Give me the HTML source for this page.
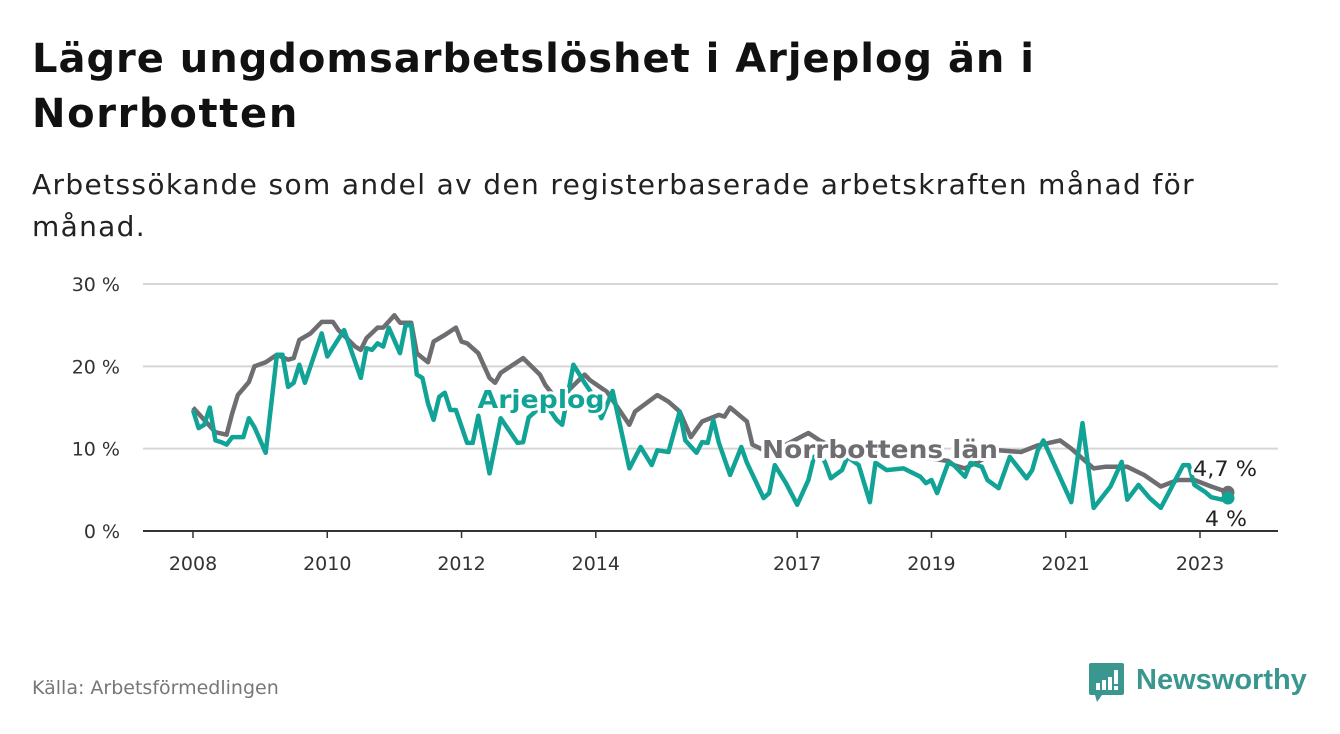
<!DOCTYPE html>
<html><head><meta charset="utf-8">
<style>
body{margin:0;background:#fff;width:1340px;height:734px;overflow:hidden;font-family:"DejaVu Sans","Liberation Sans",sans-serif;}
.ln{position:absolute;left:32px;white-space:nowrap;margin:0;}
.t{font-size:40px;font-weight:bold;color:#111;}
.s{font-size:28px;color:#222;}
#src{position:absolute;left:32px;top:677px;font-size:19px;color:#777;font-family:"DejaVu Sans",sans-serif;}
svg{position:absolute;left:0;top:0;}
</style></head>
<body>
<div>
<div class="ln t" id="t1" data-tw="1003" style="top:36px">Lägre ungdomsarbetslöshet i Arjeplog än i</div>
<div class="ln t" id="t2" data-tw="267" style="top:91px">Norrbotten</div>
</div>
<div>
<div class="ln s" id="s1" data-tw="1163" style="top:168px">Arbetssökande som andel av den registerbaserade arbetskraften månad för</div>
<div class="ln s" id="s2" data-tw="114" style="top:210px">månad.</div>
</div>
<div id="src">Källa: Arbetsförmedlingen</div>
<svg id="chart" width="1340" height="734"></svg>
<script>
const yTicks=[0,10,20,30];
const yTickLabels=["0 %","10 %","20 %","30 %"];
const xTickMonths=[0,24,48,72,108,132,156,180];
const xTickLabels=["2008","2010","2012","2014","2017","2019","2021","2023"];
const arjMonths=[0,1,2,3,4,5,6,7,9,10,11,13,15,16,17,18,19,20,23,24,27,30,31,32,33,34,35,37,38,39,40,41,42,43,44,45,46,47,49,50,51,53,55,58,59,60,62,64,65,66,68,70,71,73,75,78,80,82,83,85,87,88,90,91,92,93,94,96,98,99,102,103,104,106,108,110,111,112,113,114,116,117,119,121,122,124,127,130,131,132,133,135,136,138,139,141,142,144,146,149,150,151,152,157,159,161,164,166,167,169,171,173,177,178,179,181,182,184,185];
const arjValues=[14.7,12.5,12.9,15,11,10.8,10.5,11.4,11.4,13.7,12.6,9.5,21.4,21.4,17.5,18,20.2,18,24,21.2,24.4,18.6,22.2,22,22.8,22.4,24.7,21.6,25,25,19,18.6,15.5,13.5,16.3,16.8,14.7,14.7,10.7,10.7,14,7,13.7,10.7,10.8,13.8,15,14.5,13.5,12.9,20.2,18,17,13.7,17,7.6,10.2,8,9.8,9.6,14.5,11,9.5,10.8,10.7,13.5,10.7,6.8,10.2,8.3,4,4.6,8,5.8,3.2,6.2,9,9.5,8.3,6.4,7.4,9,8,3.5,8.3,7.4,7.6,6.6,5.8,6.2,4.6,8.3,8,6.6,8.3,7.8,6.2,5.2,9,6.4,7.4,9.8,11,3.5,13.1,2.8,5.4,8.4,3.8,5.6,4,2.8,8,8,5.6,4.7,4.1,3.8,4];
const norMonths=[0,2,4,6,7,8,10,11,13,15,17,18,19,21,23,25,26,29,30,31,33,34,36,37,39,40,42,43,45,47,48,49,51,53,54,55,59,62,63,65,67,70,71,74,78,79,83,85,87,89,91,94,95,96,99,100,103,106,110,112,115,120,130,135,136,138,142,144,148,151,155,157,161,163,167,170,173,176,179,182,185];
const norValues=[15,13.5,12,11.7,14.3,16.5,18.1,20,20.5,21.4,20.8,21,23.2,24,25.4,25.4,24.4,22.4,22,23.4,24.7,24.7,26.2,25.3,25.3,21.6,20.5,23,23.8,24.7,23,22.8,21.6,18.6,18,19.2,21,19,17.7,16,17,19,18.3,16.9,12.9,14.5,16.5,15.7,14.5,11.4,13.3,14.1,13.9,15,13.3,10.5,9.5,10.5,11.9,11,10,9.5,9,8.5,8,7.6,9,9.8,9.6,10.4,11,10,7.6,7.8,7.8,6.8,5.4,6.2,6.2,5.4,4.7];

document.querySelectorAll('.ln').forEach(el=>{
  const target=+el.dataset.tw;const n=el.textContent.length;
  const w=el.getBoundingClientRect().width;
  el.style.letterSpacing=((target-w)/n).toFixed(2)+'px';
});

const svg=document.getElementById('chart');
const NS='http://www.w3.org/2000/svg';
const X=m=>193+m*(1200-193)/180;
const Y=v=>531-v*(531-284)/30;
function mk(tag,attrs,parent){const e=document.createElementNS(NS,tag);for(const k in attrs)e.setAttribute(k,attrs[k]);(parent||svg).appendChild(e);return e;}
const F='DejaVu Sans, Liberation Sans, sans-serif';
yTicks.forEach((t,i)=>{
  const g=mk('line',{x1:143,x2:1278,y1:Y(t),y2:Y(t),stroke:t===0?'#333':'#d6d6d6','stroke-width':2});
  
  
  const l=mk('text',{x:120,y:Y(t)+7,'text-anchor':'end','font-size':19,fill:'#333','font-family':F});
  l.textContent=yTickLabels[i];
  
  
});
xTickMonths.forEach((m,i)=>{
  const tk=mk('line',{x1:X(m),x2:X(m),y1:531,y2:538,stroke:'#333','stroke-width':1.5});
  
  
  const l=mk('text',{x:X(m),y:570,'text-anchor':'middle','font-size':19,fill:'#333','font-family':F});
  l.textContent=xTickLabels[i];
  
  
});
function path(ms,vs){return ms.map((m,i)=>(i?'L':'M')+X(m).toFixed(1)+','+Y(vs[i]).toFixed(1)).join('');}
const nl=mk('path',{d:path(norMonths,norValues),fill:'none',stroke:'#6e6d72','stroke-width':4.5,'stroke-linejoin':'round'});


const al=mk('path',{d:path(arjMonths,arjValues),fill:'none',stroke:'#12a397','stroke-width':4.5,'stroke-linejoin':'round'});


const nd=mk('circle',{cx:X(norMonths[norMonths.length-1]),cy:Y(norValues[norValues.length-1]),r:6.5,fill:'#6e6d72'});


const ad=mk('circle',{cx:X(arjMonths[arjMonths.length-1]),cy:Y(arjValues[arjValues.length-1]),r:6.5,fill:'#12a397'});


function label(txt,x,y,fill,bold,anchor,name,tw){
  const t=mk('text',{x:x,y:y,'text-anchor':anchor,'font-size':bold?25:21,'font-weight':bold?'bold':'normal',fill:fill,stroke:'#fff','stroke-width':6,'paint-order':'stroke','stroke-linejoin':'round','font-family':F});
  if(tw){t.setAttribute('textLength',tw);t.setAttribute('lengthAdjust','spacingAndGlyphs');}
  t.textContent=txt;
  
  
}
label('Arjeplog',541,408,'#12a397',true,'middle','arjeplog-label',127);
label('Norrbottens län',880,458,'#6e6d72',true,'middle','norrbotten-label',236);
label('4,7 %',1225,476,'#222',false,'middle','norrbotten-end-value',64);
label('4 %',1226,526,'#222',false,'middle','arjeplog-end-value',42);
</script>
<svg width="1340" height="734" style="pointer-events:none">
  <path d="M1091 663 h31 a2 2 0 0 1 2 2 v28 a2 2 0 0 1 -2 2 h-20 l-5 7 l-2 -7 h-4 a2 2 0 0 1 -2 -2 v-28 a2 2 0 0 1 2 -2z" fill="#3a9790"/>
  <rect x="1096" y="683" width="4" height="7" fill="#fff"/>
  <rect x="1102" y="680" width="4" height="10" fill="#fff"/>
  <rect x="1108" y="677" width="4" height="13" fill="#fff"/>
  <rect x="1114" y="670" width="4" height="14" fill="#fff"/>
  <rect x="1114" y="686" width="4" height="4" fill="#fff"/>
  <text x="1136" y="689" font-size="29" font-weight="bold" fill="#3a9790" font-family="Liberation Sans, sans-serif">Newsworthy</text>
</svg>
</body></html>
